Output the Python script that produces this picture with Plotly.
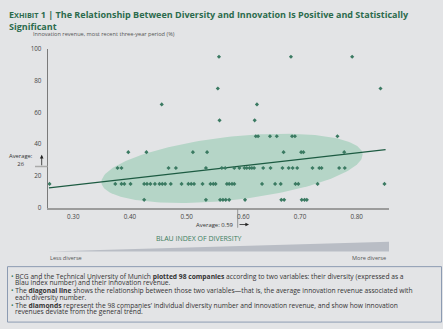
import numpy as np
import plotly.graph_objects as go

W, H = 443, 329
BG = "#e3e4e6"
GREEN_TXT = "#2c6b4d"
MARK = "#3b7a62"
ELL = "#b5d5c7"
LINE = "#1d5b42"
FONT = "Open Sans"

# ---------------- data ----------------
x_tick_vals = [0.30, 0.40, 0.50, 0.60, 0.70, 0.80]
x_tick_text = ["0.30", "0.40", "0.50", "0.60", "0.70", "0.80"]
y_tick_vals = [0, 20, 40, 60, 80, 100]
y_tick_text = ["0", "20", "40", "60", "80", "100"]

blau_rev5 = [0.425, 0.534, 0.559, 0.564, 0.569, 0.575, 0.603, 0.667, 0.672, 0.703, 0.708, 0.712]
blau_rev15 = [0.258, 0.374, 0.385, 0.390, 0.401, 0.425, 0.430, 0.436, 0.444, 0.452, 0.457, 0.462,
              0.472, 0.491, 0.503, 0.508, 0.513, 0.528, 0.542, 0.547, 0.551, 0.571, 0.575, 0.580,
              0.584, 0.633, 0.656, 0.666, 0.692, 0.697, 0.731, 0.849]
blau_rev25 = [0.378, 0.385, 0.468, 0.481, 0.534, 0.562, 0.568, 0.584, 0.593, 0.602, 0.606, 0.611,
              0.615, 0.619, 0.635, 0.648, 0.669, 0.680, 0.687, 0.695, 0.722, 0.734, 0.738, 0.769, 0.779]
blau_rev35 = [0.397, 0.429, 0.511, 0.536, 0.671, 0.702, 0.706, 0.778]
blau_rev45 = [0.622, 0.626, 0.647, 0.659, 0.686, 0.691, 0.766]
blau_rev55 = [0.558, 0.620]
blau_rev65 = [0.456, 0.624]
blau_rev75 = [0.555, 0.842]
blau_rev95 = [0.557, 0.684, 0.792]

rows = [(5, blau_rev5), (15, blau_rev15), (25, blau_rev25), (35, blau_rev35), (45, blau_rev45),
        (55, blau_rev55), (65, blau_rev65), (75, blau_rev75), (95, blau_rev95)]
blau_index = [x for rev, xs in rows for x in xs]
innovation_revenue = [rev for rev, xs in rows for x in xs]

trend_x = [0.257, 0.851]
trend_y = [12.5, 36.6]
avg_x = 0.59
avg_y = 26

# ---------------- geometry helpers ----------------
X_RANGE = [0.2548, 0.857]
Y_RANGE = [0, 100]
XD = [47.7 / W, 389 / W]
YD = [1 - 208.5 / H, 1 - 45 / H]
px_per_x = (XD[1] - XD[0]) * W / (X_RANGE[1] - X_RANGE[0])
px_per_y = (YD[1] - YD[0]) * H / (Y_RANGE[1] - Y_RANGE[0])


def px(x):
    return x / W


def py(y):
    return 1 - y / H


# ellipse (cloud behind points)
ecx, ecy = 0.580, 24.8
ea, eb, eang = 131.4, 32.5, np.deg2rad(6.56)
t = np.linspace(0, 2 * np.pi, 200)
ex_px = ea * np.cos(t) * np.cos(eang) - eb * np.sin(t) * np.sin(eang)
ey_px = ea * np.cos(t) * np.sin(eang) + eb * np.sin(t) * np.cos(eang)
ell_x = ecx + ex_px / px_per_x
ell_y = ecy + ey_px / px_per_y

fig = go.Figure()
fig.add_trace(go.Scatter(x=ell_x, y=ell_y, mode="lines", fill="toself", fillcolor=ELL,
                         line=dict(width=0), hoverinfo="skip", showlegend=False))
fig.add_trace(go.Scatter(x=trend_x, y=trend_y, mode="lines", line=dict(color=LINE, width=1.3),
                         showlegend=False))
fig.add_trace(go.Scatter(x=blau_index, y=innovation_revenue, mode="markers",
                         marker=dict(symbol="diamond", size=3.2, color=MARK, line=dict(width=0)),
                         showlegend=False))

annotations = []
shapes = []

# title
annotations.append(dict(
    xref="paper", yref="paper", x=px(7), y=py(10), xanchor="left", yanchor="middle", align="left",
    showarrow=False,
    text="<b>E<span style='font-size:7.3px'>XHIBIT</span> 1 | The Relationship Between Diversity and Innovation Is Positive and Statistically</b>",
    font=dict(family=FONT, size=9, color=GREEN_TXT)))
annotations.append(dict(
    xref="paper", yref="paper", x=px(7), y=py(22), xanchor="left", yanchor="middle", align="left",
    showarrow=False, text="<b>Significant</b>",
    font=dict(family=FONT, size=9, color=GREEN_TXT)))

# y axis title
annotations.append(dict(xref="paper", yref="paper", x=px(30.5), y=py(30), xanchor="left", yanchor="middle",
                        showarrow=False, text="Innovation revenue, most recent three-year period (%)",
                        font=dict(family=FONT, size=5.6, color="#555")))

# average y
annotations.append(dict(xref="paper", yref="paper", x=px(21), y=py(159), xanchor="center", yanchor="middle",
                        showarrow=False, text="Average:<br>26", align="center",
                        font=dict(family=FONT, size=5.8, color="#333")))
shapes.append(dict(type="line", xref="paper", yref="y", x0=px(35), x1=XD[0], y0=avg_y, y1=avg_y,
                   line=dict(color="#aaaaaa", width=1.5)))
annotations.append(dict(xref="paper", yref="paper", x=px(41.7), y=py(154), ax=0, ay=12,
                        axref="pixel", ayref="pixel", showarrow=True, text="",
                        arrowhead=2, arrowsize=0.9, arrowwidth=0.8, arrowcolor="#222"))

# average x
shapes.append(dict(type="line", xref="x", yref="paper", x0=avg_x, x1=avg_x, y0=py(210), y1=py(229),
                   line=dict(color="#777", width=0.7)))
annotations.append(dict(xref="paper", yref="paper", x=px(235.5), y=py(225.7), xanchor="right",
                        yanchor="middle", showarrow=False, text="Average: 0.59",
                        font=dict(family=FONT, size=5.9, color="#333")))
annotations.append(dict(xref="paper", yref="paper", x=px(249), y=py(225.7), ax=-11, ay=0,
                        axref="pixel", ayref="pixel", showarrow=True, text="",
                        arrowhead=2, arrowsize=0.9, arrowwidth=0.8, arrowcolor="#222"))

# x axis title
annotations.append(dict(xref="paper", yref="paper", x=px(199), y=py(240), xanchor="center", yanchor="middle",
                        showarrow=False, text="BLAU INDEX OF DIVERSITY",
                        font=dict(family=FONT, size=7, color="#3a7d5c")))

# wedge
shapes.append(dict(type="path", xref="paper", yref="paper",
                   path=f"M {px(48)} {py(253.5)} L {px(389)} {py(243.5)} L {px(389)} {py(253.5)} Z",
                   fillcolor="#b9bdc5", line=dict(width=0)))
annotations.append(dict(xref="paper", yref="paper", x=px(48), y=py(260), xanchor="left", yanchor="middle",
                        showarrow=False, text="Less diverse", font=dict(family=FONT, size=5.6, color="#555")))
annotations.append(dict(xref="paper", yref="paper", x=px(388), y=py(260), xanchor="right", yanchor="middle",
                        showarrow=False, text="More diverse", font=dict(family=FONT, size=5.6, color="#555")))

# notes box
shapes.append(dict(type="rect", xref="paper", yref="paper", x0=px(7.5), x1=px(441.5), y0=py(269), y1=py(326),
                   line=dict(color="#8c9bb2", width=1), fillcolor="rgba(0,0,0,0)"))
BUL = "<span style='color:#3a7d5c'>\u2022</span> "
note_lines = [
    (279, True, "BCG and the Technical University of Munich <b>plotted 98 companies</b> according to two variables: their diversity (expressed as a"),
    (285.7, False, "Blau index number) and their innovation revenue."),
    (294, True, "The <b>diagonal line</b> shows the relationship between those two variables\u2014that is, the average innovation revenue associated with"),
    (300.3, False, "each diversity number."),
    (308.5, True, "The <b>diamonds</b> represent the 98 companies\u2019 individual diversity number and innovation revenue, and show how innovation"),
    (315, False, "revenues deviate from the general trend."),
]
for yy, bullet, txt in note_lines:
    annotations.append(dict(xref="paper", yref="paper", x=px(10) if bullet else px(14.3), y=py(yy),
                            xanchor="left", yanchor="middle", showarrow=False, borderpad=0,
                            text=(BUL + txt) if bullet else txt,
                            font=dict(family=FONT, size=6.7, color="#333")))

fig.update_layout(
    width=W, height=H, margin=dict(l=0, r=0, t=0, b=0),
    paper_bgcolor=BG, plot_bgcolor="rgba(0,0,0,0)",
    showlegend=False, annotations=annotations, shapes=shapes,
    font=dict(family=FONT),
    xaxis=dict(domain=XD, range=X_RANGE, tickvals=x_tick_vals, ticktext=x_tick_text,
               showgrid=False, zeroline=False, showline=True, linecolor="#9c9c9c", linewidth=2,
               ticks="", tickfont=dict(size=6.3, color="#444", family=FONT), ticklabelstandoff=2),
    yaxis=dict(domain=YD, range=Y_RANGE, tickvals=y_tick_vals, ticktext=y_tick_text,
               showgrid=False, zeroline=False, showline=True, linecolor="#7a7a7a", linewidth=1,
               ticks="", tickfont=dict(size=6.3, color="#444", family=FONT), ticklabelstandoff=4),
)

fig.write_html("out.html")
